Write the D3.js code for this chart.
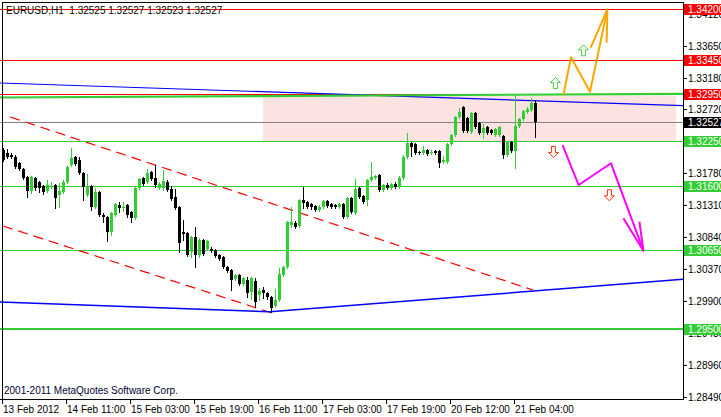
<!DOCTYPE html>
<html><head><meta charset="utf-8">
<script src="https://cdn.jsdelivr.net/npm/d3@7"></script>
<style>
html,body{margin:0;padding:0;background:#fff;}
svg{display:block;}
text{font-family:"Liberation Sans",Arial,sans-serif;font-size:10px;}
</style></head><body>
<svg id="c" width="721" height="417"></svg>
<script>
// ---- candle data (EURUSD H1), bar 0 = 13 Feb 19:00 ----
const open = [1.32122,1.32078,1.32049,1.32019,1.31931,1.31843,1.31726,1.31520,1.31711,1.31652,1.31593,1.31520,1.31579,1.31608,1.31461,1.31505,1.31652,1.31902,1.32019,1.31975,1.31784,1.31461,1.31593,1.31285,1.31505,1.31168,1.31138,1.30918,1.31168,1.31314,1.31270,1.31314,1.31212,1.31124,1.31564,1.31711,1.31652,1.31799,1.31711,1.31564,1.31564,1.31652,1.31549,1.31432,1.31285,1.30918,1.30904,1.30624,1.30845,1.30580,1.30800,1.30669,1.30669,1.30653,1.30580,1.30551,1.30404,1.30360,1.30228,1.30287,1.30154,1.30213,1.30037,1.30198,1.29993,1.30066,1.30022,1.29963,1.29831,1.29919,1.30287,1.30404,1.31021,1.31050,1.31006,1.31388,1.31358,1.31329,1.31300,1.31241,1.31285,1.31373,1.31329,1.31314,1.31285,1.31329,1.31138,1.31417,1.31197,1.31564,1.31446,1.31388,1.31681,1.31711,1.31755,1.31535,1.31608,1.31564,1.31623,1.31579,1.31711,1.32019,1.32225,1.32210,1.32093,1.32078,1.32122,1.32078,1.32107,1.32107,1.31946,1.31946,1.32210,1.32342,1.32607,1.32754,1.32592,1.32387,1.32666,1.32519,1.32372,1.32460,1.32416,1.32342,1.32342,1.32328,1.32049,1.32240,1.32107,1.32475,1.32577,1.32680,1.32709,1.32812];
const high = [1.32151,1.32137,1.32078,1.32049,1.31946,1.31858,1.31740,1.31740,1.31726,1.31667,1.31608,1.31681,1.31652,1.31623,1.31637,1.31681,1.31887,1.32151,1.32034,1.32019,1.31799,1.31770,1.31608,1.31564,1.31520,1.31197,1.31153,1.31212,1.31344,1.31358,1.31358,1.31329,1.31226,1.31579,1.31711,1.31726,1.31843,1.31814,1.31902,1.31652,1.31828,1.31681,1.31593,1.31549,1.31300,1.31094,1.30918,1.30859,1.30991,1.30830,1.30815,1.30800,1.30698,1.30669,1.30595,1.30565,1.30418,1.30374,1.30301,1.30301,1.30257,1.30257,1.30257,1.30242,1.30095,1.30110,1.30037,1.29978,1.30081,1.30389,1.30418,1.31080,1.31285,1.31080,1.31402,1.31579,1.31373,1.31344,1.31314,1.31314,1.31388,1.31388,1.31344,1.31329,1.31344,1.31344,1.31432,1.31432,1.31696,1.31579,1.31461,1.31696,1.31946,1.31755,1.31770,1.31623,1.31637,1.31637,1.31652,1.31740,1.32049,1.32372,1.32240,1.32225,1.32107,1.32181,1.32137,1.32122,1.32122,1.32122,1.32034,1.32225,1.32357,1.32621,1.32739,1.32768,1.32607,1.32680,1.32680,1.32533,1.32504,1.32475,1.32430,1.32445,1.32475,1.32342,1.32254,1.32254,1.32930,1.32592,1.32709,1.32754,1.32886,1.32856];
const low = [1.31960,1.32004,1.32004,1.31858,1.31828,1.31696,1.31432,1.31491,1.31535,1.31505,1.31476,1.31505,1.31564,1.31270,1.31285,1.31491,1.31637,1.31887,1.31902,1.31770,1.31388,1.31446,1.31241,1.31270,1.31153,1.31065,1.30786,1.30874,1.31153,1.31212,1.31226,1.31138,1.31065,1.31109,1.31549,1.31608,1.31637,1.31681,1.31579,1.31549,1.31535,1.31520,1.31388,1.31256,1.30624,1.30800,1.30565,1.30551,1.30404,1.30551,1.30580,1.30653,1.30624,1.30551,1.30507,1.30389,1.30330,1.30066,1.30213,1.30139,1.30139,1.29963,1.29934,1.29816,1.29919,1.29948,1.29934,1.29743,1.29816,1.29904,1.30272,1.30389,1.30991,1.30977,1.30991,1.31270,1.31270,1.31256,1.31226,1.31226,1.31270,1.31285,1.31270,1.31270,1.31270,1.31124,1.31124,1.31197,1.31182,1.31417,1.31344,1.31314,1.31667,1.31696,1.31520,1.31520,1.31549,1.31549,1.31564,1.31564,1.31696,1.32004,1.32034,1.32063,1.32063,1.32063,1.32049,1.32063,1.32063,1.31872,1.31931,1.31931,1.32196,1.32328,1.32592,1.32387,1.32387,1.32372,1.32445,1.32357,1.32298,1.32357,1.32357,1.32328,1.32328,1.32004,1.32034,1.32093,1.31858,1.32460,1.32563,1.32666,1.32695,1.32313];
const close = [1.31975,1.32019,1.32019,1.31872,1.31843,1.31711,1.31520,1.31726,1.31564,1.31564,1.31505,1.31608,1.31593,1.31417,1.31520,1.31652,1.31872,1.32004,1.31916,1.31784,1.31579,1.31593,1.31285,1.31505,1.31168,1.31138,1.30918,1.31197,1.31329,1.31270,1.31285,1.31168,1.31124,1.31564,1.31696,1.31623,1.31784,1.31696,1.31608,1.31623,1.31667,1.31535,1.31402,1.31270,1.30757,1.30889,1.30580,1.30845,1.30580,1.30800,1.30595,1.30786,1.30639,1.30565,1.30521,1.30404,1.30345,1.30213,1.30287,1.30154,1.30242,1.30022,1.30242,1.29890,1.30051,1.30022,1.29963,1.29802,1.29919,1.30301,1.30404,1.31065,1.31065,1.30991,1.31388,1.31344,1.31285,1.31285,1.31241,1.31285,1.31373,1.31300,1.31285,1.31285,1.31329,1.31138,1.31417,1.31212,1.31549,1.31432,1.31358,1.31681,1.31726,1.31740,1.31535,1.31608,1.31564,1.31623,1.31579,1.31711,1.32019,1.32225,1.32166,1.32078,1.32078,1.32122,1.32063,1.32093,1.32078,1.31931,1.31975,1.32210,1.32342,1.32607,1.32680,1.32401,1.32401,1.32666,1.32460,1.32372,1.32445,1.32372,1.32372,1.32430,1.32460,1.32049,1.32240,1.32107,1.32475,1.32577,1.32695,1.32724,1.32812,1.32527];

// ---- axis labels ----
const timeLabels = ["13 Feb 2012","14 Feb 11:00","15 Feb 03:00","15 Feb 19:00","16 Feb 11:00","17 Feb 03:00","17 Feb 19:00","20 Feb 12:00","21 Feb 04:00"];
const timeLabelBars = [0,16,32,48,64,80,96,112,128];
const priceTicks = [1.34120,1.33650,1.33180,1.32720,1.32250,1.31780,1.31310,1.30840,1.30370,1.29900,1.29430,1.28960,1.28490];

// ---- levels & objects (bar index, price) ----
const redLevels = [1.34200,1.33450,1.32950];
const greenLevels = [1.32250,1.31600,1.30650,1.29500];
const bidPrice = 1.32527;
const zoneBars = [65,168.25];
const zonePrices = [1.32920,1.32250];
const upperBlueBars = [-0.75,170], upperBlueP = [1.33106,1.32773];
const lowerBlueBars = [-0.75,66.75,170], lowerBlueP = [1.29890,1.29747,1.30223];
const greenTrendBars = [-0.75,170], greenTrendP = [1.32893,1.32947];
const chanUpBars = [1.75,132.5], chanUpP = [1.32607,1.30066];
const chanLoBars = [0,67.25], chanLoP = [1.31006,1.29728];
const orangeBars = [140.1,142,146.75,151.1], orangeP = [1.32930,1.33483,1.32978,1.34188];
const orangeHeadBars = [146.9,150.9], orangeHeadP = [1.33624,1.33698];
const magentaBars = [139.9,143.9,152,160.1], magentaP = [1.32195,1.31608,1.31927,1.30643];
const magentaHeadBars = [155.1,159.1], magentaHeadP = [1.31119,1.31069];
const upArrowBars = [138.1,145.1], upArrowP = [1.33106,1.33586];
const downArrowBars = [137.6,151.6], downArrowP = [1.32093,1.31457];

const R = 683.5, B = 399.5;
const x = d3.scaleLinear().domain([-0.75,170]).range([0,683]);
const y = d3.scaleLinear().domain([1.28490,1.34325]).range([397.3,0]);
const svg = d3.select("#c");
const GREEN = "#32cd32";

svg.append("defs").append("clipPath").attr("id","pc").append("rect").attr("x",0).attr("y",3).attr("width",683).attr("height",396);
const g = svg.append("g").attr("clip-path","url(#pc)");

// zone
g.append("rect").attr("x",x(zoneBars[0])).attr("y",y(zonePrices[0]))
 .attr("width",x(zoneBars[1])-x(zoneBars[0])).attr("height",y(zonePrices[1])-y(zonePrices[0]))
 .attr("fill","#fde2e2");

const crisp = v => Math.round(v)+0.5;
function hline(p,color,w){
  const yy = w===2?Math.round(y(p)):crisp(y(p));
  g.append("line").attr("x1",0).attr("x2",683).attr("y1",yy).attr("y2",yy)
   .attr("stroke",color).attr("stroke-width",w).attr("shape-rendering","crispEdges");
}
greenLevels.forEach((p,i)=>hline(p,GREEN,i===3?2:1));
hline(bidPrice,"#808080",1);
redLevels.forEach(p=>hline(p,"#ff0000",1));

const line = d3.line().x(d=>x(d[0])).y(d=>y(d[1]));
function poly(bars,ps,color,w,dash){
  const p = g.append("path").attr("d",line(bars.map((b,i)=>[b,ps[i]]))).attr("fill","none")
   .attr("stroke",color).attr("stroke-width",w).attr("stroke-linejoin","round");
  if(dash) p.attr("stroke-dasharray",dash);
  return p;
}
poly(chanUpBars,chanUpP,"#ff0000",1.2,"10,6");
poly(chanLoBars,chanLoP,"#ff0000",1.2,"10,6");
poly(upperBlueBars,upperBlueP,"#0000ff",1.2);
poly(lowerBlueBars,lowerBlueP,"#0000ff",1.5);
poly(greenTrendBars,greenTrendP,GREEN,2.2);

// candles
const cg = g.append("g").attr("shape-rendering","crispEdges");
d3.range(open.length).forEach(i=>{
  const bull = close[i] >= open[i];
  const col = bull ? GREEN : "#000000";
  const cx = Math.round(x(i));
  cg.append("line").attr("x1",cx+0.5).attr("x2",cx+0.5).attr("y1",y(high[i])).attr("y2",y(low[i])+1).attr("stroke",col);
  const top = Math.round(y(Math.max(open[i],close[i])));
  const bot = Math.round(y(Math.min(open[i],close[i])));
  cg.append("rect").attr("x",cx-1).attr("y",top).attr("width",3).attr("height",Math.max(1,bot-top)).attr("fill",col);
});

// projections
poly(orangeBars,orangeP,"#ffa500",2);
poly([orangeHeadBars[0],orangeBars[3],orangeHeadBars[1]],[orangeHeadP[0],orangeP[3],orangeHeadP[1]],"#ffa500",2);
poly(magentaBars,magentaP,"#ff00ff",2);
poly([magentaHeadBars[0],magentaBars[3],magentaHeadBars[1]],[magentaHeadP[0],magentaP[3],magentaHeadP[1]],"#ff00ff",2);

function arrow(cx,cy,up,stroke){
  const s = up?1:-1;
  const pts = [[0,-5.5],[5,-0.5],[2,-0.5],[2,5.5],[-2,5.5],[-2,-0.5],[-5,-0.5]].map(p=>[cx+p[0],cy+s*p[1]]);
  g.append("path").attr("d","M"+pts.join("L")+"Z").attr("fill","#fff").attr("stroke",stroke).attr("stroke-width",1);
}
upArrowBars.forEach((b,i)=>arrow(x(b),y(upArrowP[i]),true,"#4ccc4c"));
downArrowBars.forEach((b,i)=>arrow(x(b),y(downArrowP[i]),false,"#ff3010"));

// frame
svg.append("path").attr("d",`M2.5,399.5V2.5H${R}V${B}H0`).attr("fill","none").attr("stroke","#000").attr("shape-rendering","crispEdges");

// right axis
const ra = svg.append("g");
priceTicks.forEach(p=>{
  const yy = Math.round(y(p))+0.5;
  ra.append("line").attr("x1",R).attr("x2",R+3).attr("y1",yy).attr("y2",yy).attr("stroke","#000").attr("shape-rendering","crispEdges");
  ra.append("text").attr("x",688).attr("y",yy).attr("dy","0.35em").attr("fill","#000").text(p.toFixed(5));
});
function tag(p,bg){
  const yy = Math.round(y(p));
  ra.append("rect").attr("x",684).attr("y",yy-5).attr("width",37).attr("height",11).attr("fill",bg);
  ra.append("text").attr("x",688).attr("y",yy+0.5).attr("dy","0.35em").attr("fill","#fff").text(p.toFixed(5));
}
redLevels.forEach(p=>tag(p,"#ff0000"));
tag(bidPrice,"#000000");
greenLevels.forEach(p=>tag(p,GREEN));

// bottom axis
timeLabelBars.forEach((b,i)=>{
  const xx = Math.round(x(b))-0.5;
  svg.append("line").attr("x1",xx).attr("x2",xx).attr("y1",B).attr("y2",B+4).attr("stroke","#000").attr("shape-rendering","crispEdges");
  svg.append("text").attr("x",xx+0.5).attr("y",413).attr("fill","#000").text(timeLabels[i]);
});

svg.append("text").attr("x",6).attr("y",14).attr("fill","#000").attr("style","white-space:pre").text("EURUSD,H1  1.32525 1.32527 1.32523 1.32527");
svg.append("text").attr("x",4).attr("y",394).attr("fill","#000030").text("2001-2011 MetaQuotes Software Corp.");
</script>
</body></html>
